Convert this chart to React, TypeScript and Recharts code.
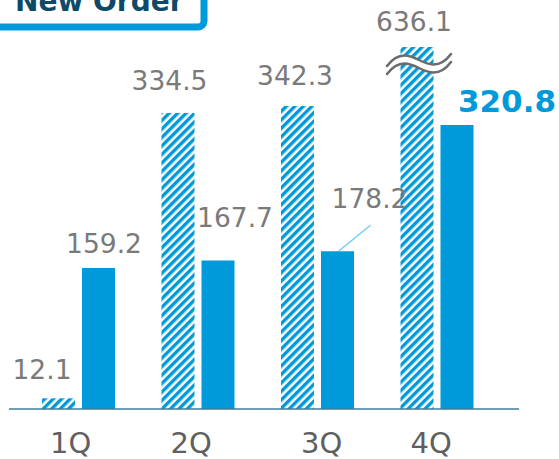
import { BarChart, Bar, XAxis, YAxis, LabelList } from "recharts"

const quarters = ["1Q", "2Q", "3Q", "4Q"]
const prevYear = [12.1, 334.5, 342.3, 636.1]
const thisYear = [159.2, 167.7, 178.2, 320.8]

// values above this are cut and drawn with a break mark
const CAP = 409

const data = quarters.map((q, i) => ({
  q,
  prev: prevYear[i],
  prevShown: Math.min(prevYear[i], CAP),
  cur: thisYear[i],
}))

const FONT = "'DejaVu Sans', Verdana, sans-serif"
const BLUE = "#0099d9"
const GRAY = "#7a7a7a"

// hand placed label nudges, from bar top centre
const prevNudge = [
  [-16.5, -19],
  [-8.5, -23],
  [-2.5, -21],
  [-3, -16],
]
const curNudge = [
  [5.5, -15],
  [17, -34],
  [32, -43],
  [50, -13],
]
const tickNudge = [-8, -7, 4, -6]

const HatchBar = (props: any) => {
  const { x, y, width, height, payload } = props
  const broken = payload.prev > CAP
  const cx = x + width / 2 + 2
  const cy = y + 17
  const wave = (dy: number) =>
    `M ${cx - 32} ${cy + 6 + dy} C ${cx - 20} ${cy - 10 + dy}, ${cx - 8} ${cy - 4 + dy}, ${cx} ${cy + dy} S ${cx + 20} ${cy + 10 + dy}, ${cx + 32} ${cy - 6 + dy}`
  return (
    <g>
      <rect x={x} y={y} width={width} height={height} fill="url(#hatch)" />
      {broken && (
        <g fill="none" strokeLinecap="round">
          <path d={wave(0)} stroke="#fff" strokeWidth={7} />
          <path d={wave(-4)} stroke="#6b6b6b" strokeWidth={2.5} />
          <path d={wave(4)} stroke="#6b6b6b" strokeWidth={2.5} />
        </g>
      )}
    </g>
  )
}

const PrevLabel = (props: any) => {
  const { x, y, width, value, index } = props
  const [dx, dy] = prevNudge[index]
  return (
    <text
      x={x + width / 2 + dx}
      y={y + dy}
      textAnchor="middle"
      fontFamily={FONT}
      fontSize={26.5}
      fill={GRAY}
    >
      {value.toFixed(1)}
    </text>
  )
}

const CurLabel = (props: any) => {
  const { x, y, width, value, index } = props
  const [dx, dy] = curNudge[index]
  const last = index === quarters.length - 1
  const cx = x + width / 2
  return (
    <g>
      {index === 2 && (
        <line x1={cx + 1} y1={y} x2={cx + 33} y2={y - 26} stroke="#6fcff5" strokeWidth={1.5} />
      )}
      <text
        x={cx + dx}
        y={y + dy}
        textAnchor="middle"
        fontFamily={FONT}
        fontSize={last ? 31 : 26.5}
        fontWeight={last ? "bold" : "normal"}
        fill={last ? BLUE : GRAY}
      >
        {value.toFixed(1)}
      </text>
    </g>
  )
}

const QuarterTick = (props: any) => {
  const { x, y, payload, index } = props
  return (
    <text
      x={x + tickNudge[index]}
      y={y + 44}
      textAnchor="middle"
      fontFamily={FONT}
      fontSize={29}
      fill="#5f5f5f"
    >
      {payload.value}
    </text>
  )
}

export default function App() {
  return (
    <div style={{ position: "absolute", left: 0, top: 0, width: 559, height: 459, background: "#fff" }}>
      <BarChart
        width={559}
        height={459}
        data={data}
        margin={{ top: 47, right: 40, left: 9, bottom: 0 }}
        barSize={33}
        barGap={7}
      >
        <defs>
          <pattern
            id="hatch"
            width={6}
            height={6}
            patternUnits="userSpaceOnUse"
            patternTransform="rotate(45)"
          >
            <rect width={6} height={6} fill="#fff" />
            <rect width={3.4} height={6} fill={BLUE} />
          </pattern>
        </defs>
        <XAxis
          dataKey="q"
          height={50}
          padding={{ left: 10, right: 22 }}
          axisLine={{ stroke: "#3f7d97", strokeWidth: 1.5 }}
          tickLine={false}
          tickSize={0}
          tickMargin={0}
          tick={<QuarterTick />}
          interval={0}
        />
        <YAxis hide domain={[0, CAP]} />
        <Bar dataKey="prevShown" shape={<HatchBar />} isAnimationActive={false}>
          <LabelList dataKey="prev" content={<PrevLabel />} />
        </Bar>
        <Bar dataKey="cur" fill={BLUE} isAnimationActive={false}>
          <LabelList dataKey="cur" content={<CurLabel />} />
        </Bar>
      </BarChart>
      <svg width={559} height={40} style={{ position: "absolute", left: 0, top: 0 }}>
        <rect x={-20} y={-30} width={224} height={57} rx={6} fill="#fff" stroke={BLUE} strokeWidth={7} />
        <text x={15} y={11} fontFamily={FONT} fontSize={28} fontWeight="bold" fill="#0d4a68">
          New Order
        </text>
      </svg>
    </div>
  )
}
